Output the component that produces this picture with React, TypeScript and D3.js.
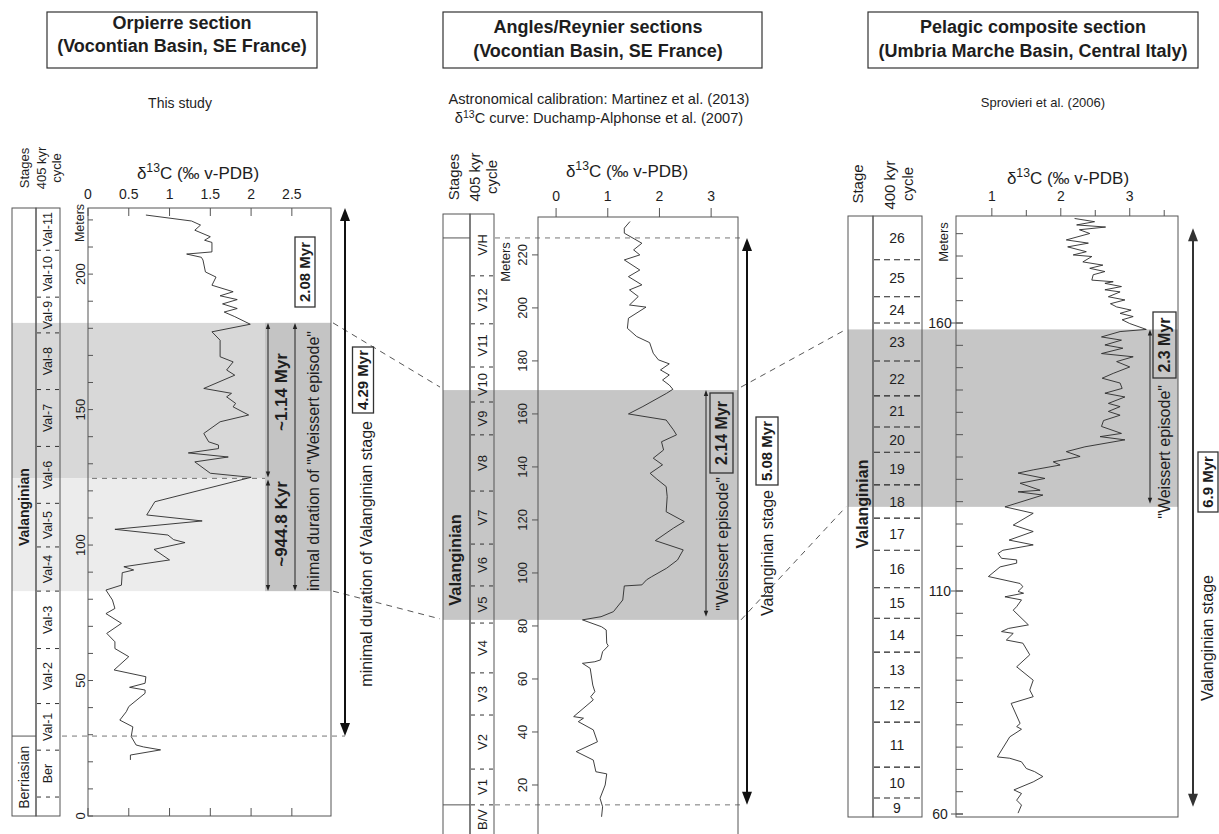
import React from "react";
import * as d3 from "d3";

// ================= DATA =================
// Orpierre section (this study): [meters, δ13C ‰]
const orpierreCurve: [number, number][] = [
  [221.8, 0.71], [219.6, 1.27], [218.1, 1.38], [216.2, 1.31], [213.8, 1.5], [212.5, 1.43], [211.7, 1.52],
  [208.2, 1.52], [207.4, 1.21], [206.2, 1.39], [205.2, 1.41], [200.8, 1.44], [198.9, 1.57], [195.9, 1.52],
  [193.5, 1.78], [192.0, 1.62], [190.6, 1.83], [189.0, 1.65], [187.3, 1.83], [186.0, 1.67], [184.3, 1.8],
  [181.5, 1.99], [178.7, 1.52], [175.6, 1.62], [169.5, 1.62], [167.6, 1.78], [164.6, 1.7], [162.7, 1.8],
  [157.8, 1.42], [156.0, 1.76], [154.7, 1.7], [152.3, 1.81], [151.0, 1.78], [148.0, 1.97], [145.5, 1.62],
  [141.2, 1.42], [138.1, 1.48], [136.9, 1.6], [135.6, 1.6], [134.0, 1.23], [132.5, 1.72], [130.7, 1.31],
  [126.5, 1.5], [125.0, 2.0], [116.0, 0.82], [111.1, 0.72], [108.9, 1.4], [105.8, 0.33], [103.7, 0.98],
  [102.0, 1.05], [100.9, 1.19], [98.4, 0.81], [94.5, 1.0], [92.0, 0.44], [90.8, 0.56], [89.8, 0.42],
  [85.2, 0.41], [83.4, 0.22], [79.7, 0.3], [76.6, 0.33], [74.7, 0.22], [71.1, 0.41], [67.4, 0.23],
  [64.3, 0.33], [61.8, 0.33], [58.8, 0.5], [53.9, 0.32], [51.4, 0.71], [49.0, 0.7], [47.5, 0.51],
  [46.5, 0.7], [45.3, 0.7], [40.4, 0.5], [38.5, 0.47], [35.4, 0.39], [32.9, 0.55], [29.3, 0.53],
  [26.2, 0.59], [25.5, 0.68], [24.4, 0.89], [22.5, 0.52], [20.7, 0.52],
];
const orpCycleBounds = [208.8, 191.5, 178.3, 157.4, 136.4, 115.4, 99.3, 83.0, 61.8, 41.5, 24.3, 7.0];
const orpCycleLabels = ["Val-11", "Val-10", "Val-9", "Val-8", "Val-7", "Val-6", "Val-5", "Val-4", "Val-3", "Val-2", "Val-1", "Ber"];
const orpXTicks = [0, 0.5, 1, 1.5, 2, 2.5];
const orpYLabels = [0, 50, 100, 150, 200];
const orpWeissert = [124.6, 182.0]; // ~1.14 Myr interval
const orpLower = [83.0, 124.6]; // ~944.8 Kyr interval
const orpBerriasianTop = 29.5;

// Angles/Reynier sections (Duchamp-Alphonse et al. 2007)
const anglesCurve: [number, number][] = [
  [232.6, 1.43], [230.1, 1.32], [228.2, 1.32], [224.4, 1.66], [221.9, 1.5], [220.0, 1.62], [218.1, 1.32],
  [214.3, 1.62], [211.8, 1.4], [208.7, 1.66], [206.8, 1.42], [204.3, 1.59], [201.1, 1.42], [200.3, 1.74],
  [196.1, 1.4], [192.3, 1.38], [189.2, 1.56], [186.9, 1.81], [182.9, 1.88], [180.4, 1.98], [178.9, 2.19],
  [176.6, 2.02], [174.7, 2.19], [172.8, 2.06], [170.9, 2.19], [169.3, 2.26], [167.8, 2.14], [162.8, 1.68],
  [160.0, 1.4], [157.7, 2.13], [154.0, 2.27], [152.1, 2.33], [149.5, 2.04], [146.4, 2.08], [143.3, 1.88],
  [140.8, 2.06], [137.6, 1.82], [135.4, 1.95], [132.6, 2.13], [128.8, 2.15], [123.1, 2.13], [119.4, 2.48],
  [116.9, 2.27], [112.2, 1.92], [108.7, 2.46], [104.9, 2.35], [101.8, 2.14], [98.6, 1.85], [97.4, 1.75],
  [95.5, 1.66], [95.1, 1.32], [89.8, 1.29], [85.4, 1.11], [83.5, 0.87], [82.3, 0.51], [79.7, 0.88],
  [78.5, 0.97], [73.5, 0.98], [72.5, 1.01], [70.3, 0.9], [67.2, 0.86], [66.5, 0.75], [65.9, 0.51],
  [64.0, 0.66], [57.7, 0.71], [55.2, 0.75], [53.3, 0.67], [52.1, 0.72], [45.8, 0.34], [45.2, 0.53],
  [43.9, 0.43], [40.8, 0.72], [36.3, 0.8], [32.6, 0.39], [29.4, 0.72], [25.0, 0.77], [24.2, 0.98],
  [20.0, 0.95], [15.0, 0.85], [11.8, 0.9], [8.0, 0.88],
];
const angCycleBounds = [212.1, 194.0, 177.7, 164.5, 152.1, 130.9, 110.9, 95.1, 81.1, 62.3, 46.4, 26.0, 12.5];
const angCycleLabels = ["V/H", "V12", "V11", "V10", "V9", "V8", "V7", "V6", "V5", "V4", "V3", "V2", "V1", "B/V"];
const angXTicks = [0, 1, 2, 3];
const angYLabels = [20, 40, 60, 80, 100, 120, 140, 160, 180, 200, 220];
const angWeissert = [82.3, 169.0];
const angStageBounds = [12.5, 226.4]; // B/V and V/H

// Pelagic composite section (Sprovieri et al. 2006)
const pelagicCurve: [number, number][] = [
  [179.5, 2.2], [178.9, 2.49], [178.3, 2.23], [177.9, 2.65], [177.4, 2.27], [176.7, 2.42], [175.5, 2.08],
  [174.9, 2.4], [174.2, 2.1], [173.3, 2.37], [172.7, 2.18], [172.4, 2.45], [171.4, 2.32], [170.8, 2.61],
  [170.2, 2.42], [169.6, 2.64], [169.0, 2.47], [168.0, 2.45], [167.7, 2.76], [167.4, 2.64], [166.8, 2.88],
  [166.2, 2.64], [165.8, 2.86], [164.9, 2.69], [164.3, 2.93], [163.6, 2.72], [163.0, 2.81], [162.4, 3.02],
  [161.8, 2.86], [161.2, 3.05], [160.6, 2.89], [159.9, 3.0], [158.8, 3.24], [158.4, 2.86], [157.4, 2.59],
  [156.8, 2.88], [155.9, 2.64], [155.3, 2.9], [154.3, 2.59], [153.7, 3.05], [152.8, 2.81], [151.8, 3.0],
  [150.6, 2.76], [149.7, 2.6], [148.8, 2.86], [147.8, 2.89], [146.9, 2.64], [146.2, 2.93], [145.0, 2.69],
  [144.4, 2.86], [143.5, 2.69], [142.8, 2.86], [141.8, 2.62], [140.7, 2.59], [139.4, 2.88], [138.8, 2.57],
  [138.2, 2.93], [136.9, 2.35], [136.0, 2.08], [135.1, 2.28], [134.1, 1.89], [133.5, 1.99], [132.6, 1.6],
  [132.0, 1.38], [131.0, 1.77], [130.1, 1.41], [128.8, 1.7], [128.5, 1.38], [127.9, 1.74], [125.7, 1.19],
  [124.5, 1.6], [122.3, 1.31], [121.1, 1.6], [119.5, 1.25], [118.6, 1.6], [117.6, 1.16], [117.0, 1.09],
  [116.1, 1.14], [115.8, 1.36], [115.2, 1.36], [114.5, 1.12], [112.7, 0.95], [111.4, 1.41], [110.8, 1.45],
  [109.9, 1.38], [109.5, 1.46], [108.7, 1.19], [108.0, 1.43], [106.5, 1.36], [105.7, 1.31], [102.4, 1.53],
  [101.6, 1.24], [100.9, 1.14], [100.5, 1.31], [99.0, 1.21], [98.3, 1.45], [95.7, 1.55], [93.0, 1.36],
  [90.0, 1.6], [87.8, 1.55], [86.3, 1.6], [84.8, 1.28], [80.3, 1.41], [79.6, 1.36], [79.0, 1.43],
  [77.3, 1.26], [72.8, 1.08], [72.5, 1.26], [71.7, 1.43], [70.2, 1.5], [69.5, 1.62], [68.4, 1.74],
  [67.2, 1.6], [65.4, 1.32], [64.6, 1.43], [63.1, 1.36], [62.0, 1.43], [60.2, 1.38],
];
const pelCycleBounds = [171.8, 164.9, 160.0, 152.9, 146.4, 140.6, 135.9, 129.8, 123.6, 117.6, 110.6, 103.9, 96.3, 88.3, 80.6, 70.5, 63.6];
const pelCycleLabels = ["26", "25", "24", "23", "22", "21", "20", "19", "18", "17", "16", "15", "14", "13", "12", "11", "10", "9"];
const pelXMajor = [1, 2, 3];
const pelXMinor = [1.5, 2.5, 3.5];
const pelYLabels = [60, 110, 160];
const pelWeissert = [125.7, 158.8];
const pelStage = [61.6, 177.7];

// ================= STYLE =================
const FONT = "'Liberation Sans', Arial, Helvetica, sans-serif";
const INK = "#1e1e1e";
const FRAME = "#555";
const CURVE = "#2a2a2a";

function VText({ x, y, anchor = "middle", size = 13, weight = "normal", children }: any) {
  return (
    <text transform={`translate(${x},${y}) rotate(-90)`} textAnchor={anchor} fontSize={size}
      fontWeight={weight} dy="0.35em" fill={INK}>{children}</text>
  );
}

function DArrow({ x, y1, y2, hw = 2.5, hl = 6, sw = 1, color = "#222" }: any) {
  return (
    <g>
      <line x1={x} x2={x} y1={y1 + hl * 0.6} y2={y2 - hl * 0.6} stroke={color} strokeWidth={sw} />
      <path d={`M${x},${y1}L${x - hw},${y1 + hl}L${x + hw},${y1 + hl}Z`} fill={color} />
      <path d={`M${x},${y2}L${x - hw},${y2 - hl}L${x + hw},${y2 - hl}Z`} fill={color} />
    </g>
  );
}

function BoxLabel({ cx, cy, len, thick, size = 15, text, fill = "none" }: any) {
  return (
    <g transform={`translate(${cx},${cy}) rotate(-90)`}>
      <rect x={-len / 2} y={-thick / 2} width={len} height={thick} fill={fill} stroke="#333" strokeWidth={1.3} />
      <text textAnchor="middle" dy="0.36em" fontSize={size} fontWeight="bold" fill={INK}>{text}</text>
    </g>
  );
}

function D13CTitle({ x, y, size = 17 }: any) {
  return (
    <text x={x} y={y} textAnchor="middle" fontSize={size} fill={INK}>
      δ<tspan dy={-size * 0.4} fontSize={size * 0.72}>13</tspan>
      <tspan dy={size * 0.4}>C (‰ v-PDB)</tspan>
    </text>
  );
}

function mids(top: number, bounds: number[], bottom: number) {
  const all = [top, ...bounds, bottom];
  return all.slice(0, -1).map((v, i) => (v + all[i + 1]) / 2);
}

export default function App() {
  // ----- Left panel scales -----
  const yL = d3.scaleLinear().domain([0, 224.4]).range([816, 208]);
  const xL = d3.scaleLinear().domain([0, 2.98]).range([88, 331]);
  const lineL = d3.line<[number, number]>().x((d) => xL(d[1])).y((d) => yL(d[0]));
  const orpMids = mids(224.4, orpCycleBounds, 0);

  // ----- Middle panel scales -----
  const yM = d3.scaleLinear().domain([0, 234.3]).range([838, 217]);
  const xM = d3.scaleLinear().domain([-0.35, 3.52]).range([538, 738]);
  const lineM = d3.line<[number, number]>().x((d) => xM(d[1])).y((d) => yM(d[0]));
  const angMids = mids(yM.invert(214), angCycleBounds, yM.invert(834));

  // ----- Right panel scales (piecewise depth axis as in the source figure) -----
  const yR = d3.scaleLinear().domain([60, 110, 160]).range([814, 591, 323]);
  const xR = d3.scaleLinear().domain([0.48, 3.7]).range([956, 1178]);
  const lineR = d3.line<[number, number]>().x((d) => xR(d[1])).y((d) => yR(d[0]));
  const pelTop = yR.invert(216);
  const pelBottom = yR.invert(817);
  const pelMids = mids(pelTop, pelCycleBounds, pelBottom);
  const pelYTicks = [...d3.range(60, 110, 5), ...d3.range(0, 17).map((k) => 110 + (k * 50) / 12)];

  const headers = [
    { x: 47, w: 270, cx: 182, b1: 29, b2: 52, lines: ["Orpierre section", "(Vocontian Basin, SE France)"] },
    { x: 443, w: 319, cx: 598, b1: 33, b2: 57, lines: ["Angles/Reynier sections", "(Vocontian Basin, SE France)"] },
    { x: 868, w: 330, cx: 1033, b1: 33, b2: 57, lines: ["Pelagic composite section", "(Umbria Marche Basin, Central Italy)"] },
  ];

  const dash = "5,5";

  return (
    <div style={{ width: 1219, height: 834 }}>
      <style>{`body{margin:0;padding:0;background:#fff}`}</style>
      <svg width={1219} height={834} style={{ display: "block", fontFamily: FONT }}>
        <rect width={1219} height={834} fill="#fff" />
        {/* ===== headers ===== */}
        {headers.map((h, i) => (
          <g key={i}>
            <rect x={h.x} y={12} width={h.w} height={56} fill="#fff" stroke="#333" strokeWidth={1.2} />
            <text x={h.cx} y={h.b1} textAnchor="middle" fontSize={18} fontWeight="bold" fill={INK}>{h.lines[0]}</text>
            <text x={h.cx} y={h.b2} textAnchor="middle" fontSize={18} fontWeight="bold" fill={INK}>{h.lines[1]}</text>
          </g>
        ))}
        <text x={180} y={108} textAnchor="middle" fontSize={14} fill={INK}>This study</text>
        <text x={599} y={104} textAnchor="middle" fontSize={14.6} fill={INK}>Astronomical calibration: Martinez et al. (2013)</text>
        <text x={599} y={123} textAnchor="middle" fontSize={14.6} fill={INK}>
          δ<tspan dy={-5} fontSize={10.5}>13</tspan><tspan dy={5}>C curve: Duchamp-Alphonse et al. (2007)</tspan>
        </text>
        <text x={1043} y={107} textAnchor="middle" fontSize={13} fill={INK}>Sprovieri et al. (2006)</text>

        {/* ===== connectors ===== */}
        <g stroke="#444" strokeWidth={0.9} strokeDasharray="6,5" fill="none">
          <line x1={333} y1={yL(orpWeissert[1])} x2={440} y2={yM(angWeissert[1]) - 3} />
          <line x1={333} y1={yL(orpLower[0])} x2={440} y2={yM(angWeissert[0]) - 1} />
          <line x1={741} y1={yM(angWeissert[1]) - 3} x2={846} y2={yR(pelWeissert[1])} />
          <line x1={741} y1={yM(angWeissert[0])} x2={846} y2={yR(pelWeissert[0])} />
        </g>

        {/* ================= LEFT PANEL ================= */}
        <g>
          <rect x={12} y={yL(orpWeissert[1])} width={319} height={yL(orpWeissert[0]) - yL(orpWeissert[1])} fill="#d8d8d8" />
          <rect x={12} y={yL(orpLower[1])} width={319} height={yL(orpLower[0]) - yL(orpLower[1])} fill="#ececec" />
          <rect x={265} y={yL(orpWeissert[1])} width={66} height={yL(orpLower[0]) - yL(orpWeissert[1])} fill="#c4c4c4" />

          {/* column headers */}
          <VText x={24} y={168} size={13}>Stages</VText>
          <VText x={41} y={168} size={13}>405 kyr</VText>
          <VText x={56} y={168} size={13}>cycle</VText>

          {/* columns */}
          <rect x={12} y={208} width={24} height={608} fill="none" stroke={FRAME} />
          <rect x={36} y={208} width={24} height={608} fill="none" stroke={FRAME} />
          <line x1={12} x2={36} y1={yL(orpBerriasianTop)} y2={yL(orpBerriasianTop)} stroke={FRAME} />
          {orpCycleBounds.map((b, i) => (
            <line key={i} x1={37} x2={60} y1={yL(b)} y2={yL(b)} stroke="#333" strokeDasharray="4,5" />
          ))}
          {orpCycleLabels.map((l, i) => (
            <VText key={i} x={48} y={yL(orpMids[i])} size={12.5}>{l}</VText>
          ))}
          <VText x={24} y={yL(114)} size={14} weight="bold">Valanginian</VText>
          <VText x={24} y={yL(14.3)} size={14}>Berriasian</VText>

          {/* plot */}
          <D13CTitle x={198} y={179} size={17} />
          {orpXTicks.map((t) => (
            <g key={t}>
              <text x={xL(t)} y={199} textAnchor="middle" fontSize={14} fill={INK}>{String(t)}</text>
              <line x1={xL(t)} x2={xL(t)} y1={208} y2={216} stroke={FRAME} />
              <line x1={xL(t)} x2={xL(t)} y1={808} y2={816} stroke={FRAME} />
            </g>
          ))}
          {d3.range(0, 221, 10).map((t) => (
            <line key={t} x1={88} x2={93} y1={yL(t)} y2={yL(t)} stroke={FRAME} />
          ))}
          {orpYLabels.map((t) => (
            <VText key={t} x={80} y={yL(t)} size={13}>{String(t)}</VText>
          ))}
          <VText x={80} y={223} size={12.5}>Meters</VText>
          <line x1={92} x2={265} y1={yL(orpWeissert[0])} y2={yL(orpWeissert[0])} stroke="#666" strokeDasharray={dash} strokeWidth={0.9} />
          <line x1={62} x2={345} y1={yL(orpBerriasianTop)} y2={yL(orpBerriasianTop)} stroke="#666" strokeDasharray={dash} strokeWidth={0.9} />
          <path d={lineL(orpierreCurve) || ""} fill="none" stroke={CURVE} strokeWidth={0.9} />
          <rect x={88} y={208} width={243} height={608} fill="none" stroke={FRAME} />

          {/* annotations */}
          <DArrow x={268} y1={yL(orpWeissert[1])} y2={yL(orpWeissert[0]) - 1} hw={2.2} hl={6} />
          <DArrow x={268} y1={yL(orpLower[1]) + 1} y2={yL(orpLower[0])} hw={2.2} hl={6} />
          <DArrow x={295} y1={yL(orpWeissert[1])} y2={yL(orpLower[0])} hw={2.2} hl={6} />
          <VText x={281} y={392} size={17} weight="bold">~1.14 Myr</VText>
          <VText x={281} y={524} size={17} weight="bold">~944.8 Kyr</VText>
          <clipPath id="clipWeissertL">
            <rect x={265} y={300} width={70} height={yL(orpLower[0]) - 300} />
          </clipPath>
          <g clipPath="url(#clipWeissertL)">
            <VText x={313} y={331} size={16} anchor="end">minimal duration of "Weissert episode"</VText>
          </g>
          <BoxLabel cx={305} cy={272} len={70} thick={20} size={15} text="2.08 Myr" fill="#fff" />

          <DArrow x={345} y1={208} y2={yL(orpBerriasianTop)} hw={5} hl={13} sw={2} color="#111" />
          <BoxLabel cx={363} cy={380} len={66} thick={21} size={15} text="4.29 Myr" fill="#fff" />
          <VText x={366} y={421} size={16} anchor="end">minimal duration of  Valanginian stage</VText>
        </g>

        {/* ================= MIDDLE PANEL ================= */}
        <g>
          <rect x={443} y={yM(angWeissert[1])} width={295} height={yM(angWeissert[0]) - yM(angWeissert[1])} fill="#c6c6c6" />
          <VText x={454} y={177} size={15}>Stages</VText>
          <VText x={475} y={177} size={15}>405 kyr</VText>
          <VText x={492} y={177} size={15}>cycle</VText>

          <rect x={443} y={214} width={27} height={640} fill="none" stroke={FRAME} />
          <rect x={470} y={214} width={24} height={640} fill="none" stroke={FRAME} />
          {angStageBounds.map((b, i) => (
            <line key={i} x1={443} x2={470} y1={yM(b)} y2={yM(b)} stroke={FRAME} />
          ))}
          {angCycleBounds.map((b, i) => (
            <line key={i} x1={471} x2={494} y1={yM(b)} y2={yM(b)} stroke="#333" strokeDasharray="4,5" />
          ))}
          {angCycleLabels.map((l, i) => (
            <VText key={i} x={482} y={yM(angMids[i])} size={13}>{l}</VText>
          ))}
          <VText x={455} y={560} size={16.5} weight="bold">Valanginian</VText>

          <D13CTitle x={627} y={177} size={17} />
          {angXTicks.map((t) => (
            <g key={t}>
              <text x={xM(t)} y={201} textAnchor="middle" fontSize={14} fill={INK}>{String(t)}</text>
              <line x1={xM(t)} x2={xM(t)} y1={208} y2={217} stroke={FRAME} />
            </g>
          ))}
          {angYLabels.map((t) => (
            <g key={t}>
              <line x1={532} x2={538} y1={yM(t)} y2={yM(t)} stroke={FRAME} />
              <VText x={522} y={yM(t)} size={13}>{String(t)}</VText>
            </g>
          ))}
          <VText x={505} y={262} size={13}>Meters</VText>
          {angStageBounds.map((b, i) => (
            <line key={i} x1={495} x2={744} y1={yM(b)} y2={yM(b)} stroke="#666" strokeDasharray={dash} strokeWidth={0.9} />
          ))}
          <path d={lineM(anglesCurve) || ""} fill="none" stroke={CURVE} strokeWidth={0.9} />
          <rect x={538} y={217} width={200} height={640} fill="none" stroke={FRAME} />

          <DArrow x={706} y1={yM(angWeissert[1])} y2={yM(angWeissert[0]) - 3} hw={2.2} hl={6} />
          <BoxLabel cx={721.5} cy={433} len={80} thick={23} size={16} text="2.14 Myr" />
          <VText x={722} y={477} size={16} anchor="end">"Weissert episode"</VText>

          <DArrow x={747} y1={yM(angStageBounds[1])} y2={yM(angStageBounds[0])} hw={5} hl={13} sw={2} color="#111" />
          <BoxLabel cx={767} cy={451} len={68} thick={22} size={15} text="5.08 Myr" fill="#fff" />
          <VText x={767} y={490} size={16} anchor="end">Valanginian stage</VText>
        </g>

        {/* ================= RIGHT PANEL ================= */}
        <g>
          <rect x={848} y={yR(pelWeissert[1])} width={330} height={yR(pelWeissert[0]) - yR(pelWeissert[1])} fill="#c6c6c6" />
          <VText x={858} y={184} size={15}>Stage</VText>
          <VText x={890} y={185} size={15}>400 kyr</VText>
          <VText x={908} y={184} size={15}>cycle</VText>

          <rect x={848} y={216} width={25} height={601} fill="none" stroke={FRAME} />
          <rect x={873} y={216} width={49} height={601} fill="none" stroke={FRAME} />
          {pelCycleBounds.map((b, i) => (
            <line key={i} x1={874} x2={922} y1={yR(b)} y2={yR(b)} stroke="#222" strokeDasharray="6,4" strokeWidth={1.1} />
          ))}
          {pelCycleLabels.map((l, i) => (
            <text key={i} x={897} y={yR(pelMids[i])} dy="0.36em" textAnchor="middle" fontSize={14} fill={INK}>{l}</text>
          ))}
          <VText x={862} y={504} size={16} weight="bold">Valanginian</VText>

          <D13CTitle x={1068} y={184} size={17} />
          {pelXMajor.map((t) => (
            <g key={t}>
              <text x={xR(t)} y={201} textAnchor="middle" fontSize={14} fill={INK}>{String(t)}</text>
              <line x1={xR(t)} x2={xR(t)} y1={208} y2={216} stroke={FRAME} />
            </g>
          ))}
          {pelXMinor.map((t) => (
            <line key={t} x1={xR(t)} x2={xR(t)} y1={210} y2={216} stroke={FRAME} />
          ))}
          {pelYTicks.map((t, i) => (
            <line key={i} x1={956} x2={963} y1={yR(t)} y2={yR(t)} stroke={FRAME} />
          ))}
          {pelYLabels.map((t) => (
            <g key={t}>
              <line x1={951} x2={963} y1={yR(t)} y2={yR(t)} stroke={FRAME} />
              <text x={940} y={yR(t)} dy="0.36em" textAnchor="middle" fontSize={14} fill={INK}>{String(t)}</text>
            </g>
          ))}
          <VText x={943} y={242} size={13}>Meters</VText>
          <path d={lineR(pelagicCurve) || ""} fill="none" stroke={CURVE} strokeWidth={0.9} />
          <rect x={956} y={216} width={222} height={601} fill="none" stroke={FRAME} />

          <DArrow x={1150} y1={yR(pelWeissert[1])} y2={yR(pelWeissert[0]) - 3} hw={2.2} hl={6} />
          <BoxLabel cx={1164.5} cy={345} len={66} thick={23} size={16} text="2.3 Myr" />
          <VText x={1164} y={385} size={16} anchor="end">"Weissert episode"</VText>

          <DArrow x={1193} y1={yR(pelStage[1])} y2={yR(pelStage[0])} hw={5} hl={13} sw={2} color="#333" />
          <BoxLabel cx={1208} cy={482} len={60} thick={20} size={15} text="6.9 Myr" fill="#fff" />
          <VText x={1207} y={575} size={16} anchor="end">Valanginian stage</VText>
        </g>
      </svg>
    </div>
  );
}
